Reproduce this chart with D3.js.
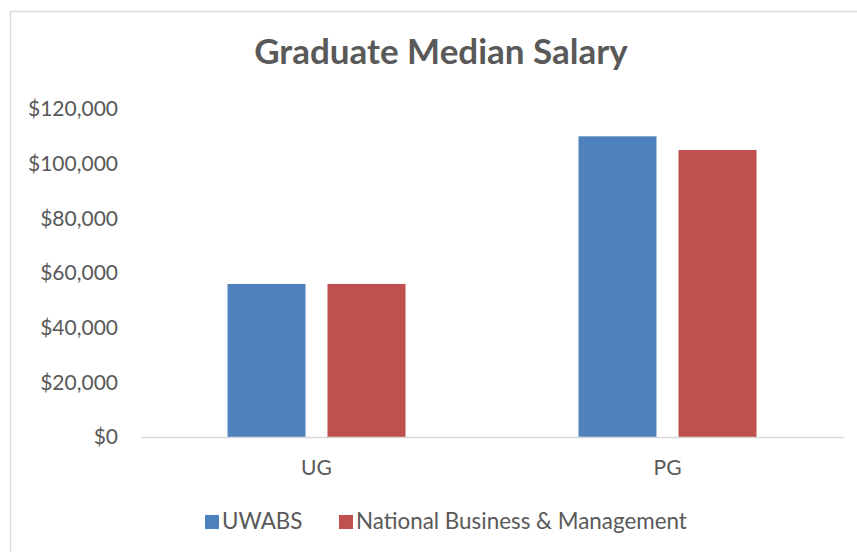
<!DOCTYPE html>
<html>
<head>
<meta charset="utf-8">
<script src="https://cdn.jsdelivr.net/npm/d3@7"></script>
<style>
  body { margin: 0; background: #fff; }
  text { font-family: Lato, "Open Sans", sans-serif; fill: #595959; }
</style>
</head>
<body>
<div id="chart"></div>
<script>
let categories = ['UG', 'PG']
let seriesNames = ['UWABS', 'National Business & Management']
let uwabs = [56000, 110000]
let national = [56000, 105000]
let yTicks = [0, 20000, 40000, 60000, 80000, 100000, 120000]
let colors = ['#4f81bd', '#c0504d']

let width = 857
let height = 552

let svg = d3
  .select('#chart')
  .append('svg')
  .attr('width', width)
  .attr('height', height)

// chart border
svg
  .append('rect')
  .attr('x', 10.5)
  .attr('y', 11.5)
  .attr('width', 900)
  .attr('height', 600)
  .attr('fill', 'white')
  .attr('stroke', '#d9d9d9')
  .attr('stroke-width', 1.5)

svg
  .append('text')
  .attr('x', 441)
  .attr('y', 64)
  .attr('text-anchor', 'middle')
  .attr('font-size', 35)
  .attr('font-weight', 'bold')
  .text('Graduate Median Salary')

let data = categories.map((c, i) => ({ cat: c, values: [uwabs[i], national[i]] }))

let x0 = d3.scaleBand().domain(categories).range([141, 843])
let x1 = d3.scaleBand().domain([0, 1]).range([0, 178]).paddingInner(0.22)
let y = d3.scaleLinear().domain([0, 120000]).range([437, 109])

// y axis labels
let yAxis = d3
  .axisLeft(y)
  .tickValues(yTicks)
  .tickSize(0)
  .tickPadding(0)
  .tickFormat(d => '$' + d3.format(',')(d))

svg
  .append('g')
  .attr('transform', 'translate(118,0)')
  .call(yAxis)
  .call(g => g.select('.domain').remove())
  .selectAll('text')
  .attr('font-size', 21)
  .attr('fill', '#595959')
  .style('font-family', 'Lato, sans-serif')

let groups = svg
  .selectAll('.group')
  .data(data)
  .enter()
  .append('g')
  .attr('class', 'group')
  .attr('transform', d => 'translate(' + (x0(d.cat) + (x0.bandwidth() - 178) / 2) + ',0)')

groups
  .selectAll('rect')
  .data(d => d.values)
  .enter()
  .append('rect')
  .attr('x', (d, i) => x1(i))
  .attr('width', x1.bandwidth())
  .attr('y', d => y(d))
  .attr('height', d => y(0) - y(d))
  .attr('fill', (d, i) => colors[i])

// x axis
let xAxis = d3.axisBottom(x0).tickSize(0).tickPadding(0)
svg
  .append('g')
  .attr('transform', 'translate(0,' + y(0) + ')')
  .call(xAxis)
  .call(g => g.select('.domain').attr('stroke', '#d9d9d9').attr('stroke-width', 1.5))
  .selectAll('text')
  .attr('dy', 0)
  .attr('y', 38)
  .attr('font-size', 21)
  .attr('fill', '#595959')
  .style('font-family', 'Lato, sans-serif')

// legend
let legendX = [205, 339]
let legend = svg
  .selectAll('.legend')
  .data(seriesNames)
  .enter()
  .append('g')
  .attr('class', 'legend')
  .attr('transform', (d, i) => 'translate(' + legendX[i] + ',515)')

legend
  .append('rect')
  .attr('width', 14)
  .attr('height', 14)
  .attr('fill', (d, i) => colors[i])

legend
  .append('text')
  .attr('x', 17)
  .attr('y', 14)
  .attr('font-size', 22.4)
  .text(d => d)
</script>
</body>
</html>
